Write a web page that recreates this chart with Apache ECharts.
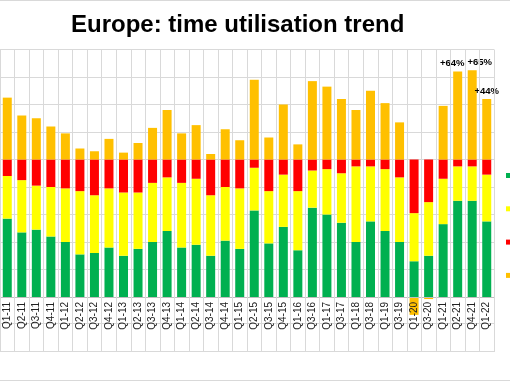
<!DOCTYPE html>
<html>
<head>
<meta charset="utf-8">
<script src="https://cdn.jsdelivr.net/npm/echarts@6/dist/echarts.min.js"></script>
<style>
html,body{margin:0;padding:0;background:#fff;}
#chart{width:510px;height:382px;}
</style>
</head>
<body>
<div id="chart"></div>
<script>
const categories = ['Q1-11','Q2-11','Q3-11','Q4-11','Q1-12','Q2-12','Q3-12','Q4-12','Q1-13','Q2-13','Q3-13','Q4-13','Q1-14','Q2-14','Q3-14','Q4-14','Q1-15','Q2-15','Q3-15','Q4-15','Q1-16','Q3-16','Q1-17','Q3-17','Q1-18','Q3-18','Q1-19','Q3-19','Q1-20','Q3-20','Q1-21','Q2-21','Q4-21','Q1-22'];
const greenVals  = [57,47,49,44,40,31,32,36,30,35,40,48,36,38,30,41,35,63,39,51,34,65,60,54,40,55,48,40,26,30,53,70,70,55];
const yellowVals = [31,38,32,36,39,46,42,43,46,41,43,39,47,48,44,39,44,31,38,38,43,27,33,36,55,40,45,47,35,39,33,25,25,34];
const redVals    = [12,15,19,20,21,23,26,21,24,24,17,13,17,14,26,20,21,6,23,11,23,8,7,10,5,5,7,13,39,31,14,5,5,11];
const orangeVals = [45,32,30,24,19,8,6,15,5,12,23,36,19,25,4,22,14,58,16,40,11,57,53,44,36,50,41,27,-13,-1.5,39,64,65,44];
const annotations = {31:'+64%', 32:'+65%', 33:'+44%'};
const seriesNames = ['Green','Yellow','Red','Orange'];
const yTicks = [0,20,40,60,80,100,120,140,160,180];

const FONT = "'Liberation Sans', Arial, sans-serif";
const GRID_COLOR = '#d9d9d9';
const annotationOffsets = {31:[-5.5,0], 32:[7.5,0], 33:[0,0]};

const chart = echarts.init(document.getElementById('chart'), null, {renderer:'canvas'});

const orangeData = orangeVals.map((v,i) => {
  if (annotations[i]) {
    return {
      value: v,
      label: {
        show: true, position: 'top', distance: 3,
        formatter: annotations[i],
        offset: annotationOffsets[i],
        fontFamily: FONT, fontSize: 9.5, fontWeight: 'bold', color: '#000'
      }
    };
  }
  return v;
});

const colors = ['#00B050','#FFFF00','#FF0000','#FFC000'];
const vals = [greenVals, yellowVals, redVals, orangeData];

const option = {
  animation: false,
  textStyle: {fontFamily: FONT},
  title: {
    text: 'Europe: time utilisation trend',
    left: 71, top: 13, padding: 0,
    textStyle: {fontFamily: FONT, fontSize: 24, fontWeight: 'bold', color: '#000'}
  },
  legend: {
    orient: 'vertical', left: 506, top: 173, padding: 0,
    itemWidth: 5, itemHeight: 5, itemGap: 28.3,
    icon: 'rect',
    formatter: () => '',
    textStyle: {fontSize: 5, lineHeight: 5},
    data: seriesNames
  },
  grid: {left: -4, right: 16, top: 49.5, bottom: 85, containLabel: false},
  xAxis: {
    type: 'category',
    data: categories,
    z: 3,
    axisLine: {show: true, lineStyle: {color: '#bfbfbf', width: 1}},
    axisTick: {show: true, length: 55, interval: 0, lineStyle: {color: GRID_COLOR}},
    splitLine: {show: true, interval: 0, lineStyle: {color: GRID_COLOR}},
    axisLabel: {
      interval: 0, rotate: 90, margin: 5,
      fontFamily: FONT, fontSize: 10, color: '#222'
    }
  },
  yAxis: {
    type: 'value', min: 0, max: 180, interval: 20,
    axisLabel: {show: false},
    axisLine: {show: false}, axisTick: {show: false},
    splitLine: {show: true, lineStyle: {color: GRID_COLOR}}
  },
  graphic: [
    {type: 'line', shape: {x1: 0, y1: 323.5, x2: 494, y2: 323.5}, style: {stroke: GRID_COLOR, lineWidth: 1}, z: 1},
    {type: 'line', shape: {x1: 0, y1: 351.5, x2: 494, y2: 351.5}, style: {stroke: GRID_COLOR, lineWidth: 1}, z: 1},
    {type: 'line', shape: {x1: 0, y1: 0.5, x2: 510, y2: 0.5}, style: {stroke: GRID_COLOR, lineWidth: 1}, z: 1},
    {type: 'line', shape: {x1: 0, y1: 380.5, x2: 510, y2: 380.5}, style: {stroke: GRID_COLOR, lineWidth: 1}, z: 1}
  ],
  series: seriesNames.map((name, k) => ({
    name: name,
    type: 'bar',
    stack: 'total',
    barWidth: 9,
    clip: false,
    z: 2,
    itemStyle: {color: colors[k]},
    data: vals[k]
  }))
};
chart.setOption(option);
</script>
</body>
</html>
